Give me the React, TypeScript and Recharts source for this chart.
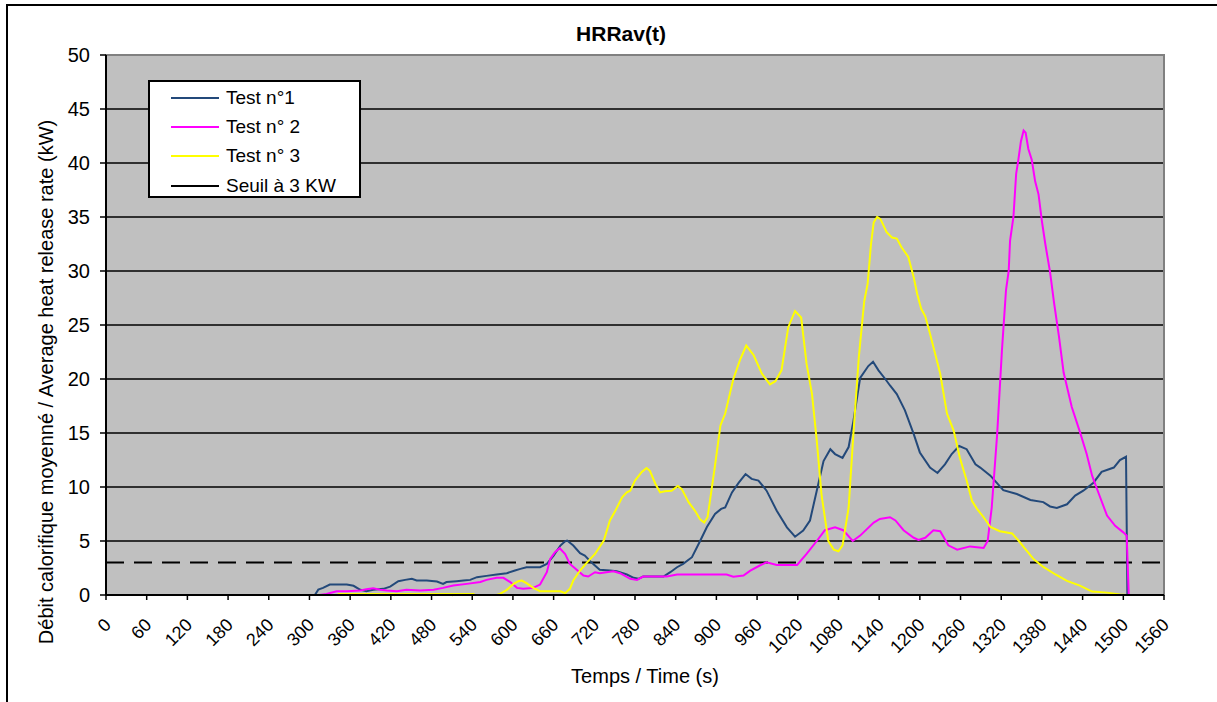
import React from "react";
import {
  LineChart,
  Line,
  XAxis,
  YAxis,
  CartesianGrid,
  ReferenceLine,
  ReferenceArea,
  Legend,
  Label,
} from "recharts";

const FONT = '"Liberation Sans", Arial, sans-serif';

// [time (s), HRR (kW)]
const test1: [number, number][] = [
  [0, 0], [308, 0], [313, 0.5], [320, 0.66], [330, 0.97], [355, 0.97], [365, 0.85], [375, 0.48],
  [384, 0.35], [394, 0.48], [409, 0.57], [419, 0.78], [431, 1.28], [441, 1.4], [451, 1.5], [458, 1.34],
  [473, 1.34], [488, 1.25], [497, 1.03], [502, 1.2], [517, 1.28], [527, 1.34], [537, 1.4], [547, 1.65],
  [561, 1.77], [576, 1.9], [591, 2.02], [603, 2.27], [611, 2.42], [620, 2.57], [640, 2.57], [650, 2.88],
  [660, 3.65], [670, 4.58], [677, 4.98], [680, 5.04], [689, 4.58], [699, 3.87], [706, 3.65], [716, 3.0],
  [728, 2.33], [743, 2.27], [753, 2.2], [768, 1.9], [778, 1.59], [785, 1.5], [792, 1.71], [822, 1.71],
  [832, 2.11], [842, 2.57], [851, 2.88], [864, 3.5], [876, 5.0], [886, 6.3], [898, 7.5], [907, 7.97],
  [913, 8.1], [923, 9.5], [933, 10.4], [943, 11.2], [952, 10.75], [962, 10.6], [974, 9.66], [989, 7.8],
  [1004, 6.27], [1016, 5.4], [1028, 5.96], [1038, 6.9], [1048, 9.66], [1058, 12.4], [1068, 13.5],
  [1075, 13.05], [1086, 12.7], [1095, 13.7], [1102, 16.1], [1112, 20.1], [1124, 21.2], [1131, 21.6],
  [1139, 20.8], [1149, 20.0], [1156, 19.4], [1166, 18.6], [1178, 17.1], [1191, 14.9], [1200, 13.2],
  [1215, 11.8], [1226, 11.3], [1237, 12.1], [1247, 13.05], [1258, 13.8], [1269, 13.5], [1282, 12.1],
  [1289, 11.8], [1304, 11.05], [1323, 9.7], [1343, 9.35], [1363, 8.8], [1382, 8.6], [1392, 8.2],
  [1402, 8.06], [1417, 8.4], [1429, 9.2], [1441, 9.66], [1456, 10.4], [1468, 11.4], [1486, 11.8],
  [1495, 12.5], [1504, 12.8], [1506, 0], [1560, 0],
];

const test2: [number, number][] = [
  [0, 0], [315, 0], [325, 0.1], [340, 0.35], [355, 0.35], [375, 0.41], [384, 0.54], [394, 0.63],
  [404, 0.48], [414, 0.41], [429, 0.35], [443, 0.48], [463, 0.41], [483, 0.48], [497, 0.66], [512, 0.88],
  [532, 1.03], [552, 1.2], [561, 1.4], [576, 1.59], [586, 1.59], [596, 1.2], [606, 0.66], [615, 0.57],
  [630, 0.66], [640, 0.97], [650, 2.11], [655, 3.35], [662, 3.96], [669, 4.33], [677, 3.8], [684, 2.88],
  [694, 2.33], [704, 1.8], [711, 1.71], [721, 2.11], [728, 2.02], [748, 2.2], [758, 2.02], [773, 1.5],
  [783, 1.4], [792, 1.71], [827, 1.71], [842, 1.9], [871, 1.9], [915, 1.89], [925, 1.7], [940, 1.8],
  [950, 2.26], [964, 2.73], [974, 3.03], [989, 2.78], [1019, 2.78], [1033, 3.8], [1048, 5.0], [1060, 6.0],
  [1075, 6.27], [1087, 6.0], [1101, 5.0], [1112, 5.5], [1132, 6.7], [1141, 7.04], [1156, 7.2],
  [1164, 6.9], [1176, 6.0], [1191, 5.3], [1198, 5.1], [1208, 5.3], [1220, 6.0], [1230, 5.9], [1242, 4.6],
  [1255, 4.2], [1274, 4.5], [1294, 4.36], [1300, 5.0], [1306, 8.1], [1314, 14.9], [1321, 22.6],
  [1327, 28.2], [1331, 30.0], [1333, 32.8], [1338, 35.0], [1342, 39.0], [1345, 40.2], [1349, 42.0],
  [1353, 43.0], [1356, 42.8], [1360, 41.3], [1365, 40.3], [1370, 38.3], [1375, 37.1], [1380, 34.6],
  [1385, 32.5], [1392, 29.9], [1398, 27.0], [1405, 24.0], [1412, 20.6], [1424, 17.4], [1436, 15.1],
  [1446, 13.05], [1454, 11.05], [1464, 9.35], [1476, 7.35], [1488, 6.4], [1500, 5.8], [1505, 5.5],
  [1508, 0], [1560, 0],
];

const test3: [number, number][] = [
  [0, 0], [342, 0], [343, 0.1], [425, 0.1], [426, 0], [428, 0.1], [510, 0.1], [511, 0], [513, 0.1],
  [542, 0.1], [543, 0], [576, 0], [581, 0.1], [591, 0.48], [601, 1.03], [608, 1.28], [613, 1.34],
  [620, 1.1], [630, 0.66], [640, 0.35], [670, 0.35], [677, 0.17], [684, 0.57], [689, 1.34], [699, 2.27],
  [709, 3.0], [721, 3.8], [734, 5.04], [743, 6.9], [751, 7.8], [761, 9.05], [768, 9.5], [773, 9.66],
  [780, 10.6], [790, 11.4], [797, 11.76], [802, 11.5], [810, 10.3], [817, 9.5], [824, 9.6], [834, 9.66],
  [843, 10.1], [849, 9.8], [859, 8.6], [869, 7.75], [876, 7.0], [882, 6.7], [887, 7.2], [892, 9.36],
  [898, 12.0], [906, 15.7], [913, 16.8], [925, 20.0], [935, 21.8], [944, 23.1], [955, 22.2], [967, 20.5],
  [979, 19.5], [987, 19.8], [996, 20.8], [1006, 24.8], [1016, 26.3], [1025, 25.7], [1033, 21.4],
  [1041, 18.6], [1048, 14.3], [1055, 9.3], [1065, 5.0], [1073, 4.2], [1080, 4.05], [1086, 4.6],
  [1095, 8.1], [1102, 14.9], [1110, 22.0], [1118, 27.2], [1123, 28.8], [1128, 32.5], [1132, 34.5],
  [1137, 35.0], [1142, 34.8], [1151, 33.6], [1159, 33.1], [1166, 33.0], [1173, 32.2], [1183, 31.3],
  [1191, 29.4], [1196, 27.9], [1202, 26.5], [1208, 25.8], [1215, 24.2], [1230, 20.5], [1240, 16.8],
  [1250, 15.2], [1259, 12.7], [1269, 10.6], [1277, 8.7], [1284, 8.0], [1294, 7.2], [1304, 6.3],
  [1318, 5.9], [1336, 5.7], [1346, 5.0], [1355, 4.3], [1368, 3.3], [1382, 2.6], [1400, 1.9],
  [1417, 1.3], [1436, 0.87], [1454, 0.32], [1476, 0.22], [1495, 0.04], [1505, 0], [1560, 0],
];

const THRESHOLD = 3;

const xTicks = [0, 60, 120, 180, 240, 300, 360, 420, 480, 540, 600, 660, 720, 780, 840, 900, 960, 1020, 1080, 1140, 1200, 1260, 1320, 1380, 1440, 1500, 1560];
const yTicks = [0, 5, 10, 15, 20, 25, 30, 35, 40, 45, 50];
const gridValues = [5, 10, 15, 20, 25, 30, 35, 40, 45];

const legendItems = [
  { name: "Test n°1", color: "#23497A" },
  { name: "Test n° 2", color: "#FF00FF" },
  { name: "Test n° 3", color: "#FFFF00" },
  { name: "Seuil à 3 KW", color: "#000000" },
];

const toRows = (pts: [number, number][]) => pts.map(([t, v]) => ({ t, v }));

const XTick = (props: any) => {
  const { x, y, payload } = props;
  const px = x + 6;
  const py = y + 24;
  return (
    <text
      x={px}
      y={py}
      transform={`rotate(-45 ${px} ${py})`}
      textAnchor="end"
      fontSize={18}
      fontFamily={FONT}
      fill="#000"
    >
      {payload.value}
    </text>
  );
};

const LegendBox = () => (
  <div
    style={{
      width: 213,
      height: 118,
      boxSizing: "border-box",
      border: "2px solid #000",
      background: "#fff",
      paddingTop: 1,
      fontFamily: FONT,
      fontSize: 19,
      color: "#000",
    }}
  >
    {legendItems.map((it) => (
      <div key={it.name} style={{ height: 29.3, display: "flex", alignItems: "center" }}>
        <div style={{ marginLeft: 21, width: 48, height: 2, background: it.color }} />
        <span style={{ marginLeft: 7, whiteSpace: "nowrap" }}>{it.name}</span>
      </div>
    ))}
  </div>
);

export default function App() {
  return (
    <div style={{ position: "absolute", left: 0, top: 0, width: 1217, height: 702, background: "#fff", overflow: "hidden" }}>
      <div
        style={{
          position: "absolute",
          left: 6,
          top: 4,
          width: 1217,
          height: 710,
          borderTop: "2px solid #000",
          borderLeft: "2px solid #000",
          pointerEvents: "none",
        }}
      />
      <div
        style={{
          position: "absolute",
          left: 0,
          top: 23,
          width: 1242,
          textAlign: "center",
          fontFamily: FONT,
          fontWeight: "bold",
          fontSize: 21,
          lineHeight: 1,
          color: "#000",
        }}
      >
        HRRav(t)
      </div>
      <div style={{ position: "absolute", left: 0, top: 0 }}>
        <LineChart width={1217} height={702} margin={{ top: 55, right: 53, bottom: 47, left: 66 }}>
          <CartesianGrid
            vertical={false}
            horizontalValues={gridValues}
            fill="#C0C0C0"
            fillOpacity={1}
            stroke="#000"
            strokeWidth={1.5}
          />
          <ReferenceArea x1={0} x2={1560} y1={0} y2={50} fill="none" stroke="#808080" strokeWidth={2} />
          <XAxis
            dataKey="t"
            type="number"
            domain={[0, 1560]}
            ticks={xTicks}
            interval={0}
            height={60}
            tick={<XTick />}
            tickSize={5}
            tickLine={{ stroke: "#000", strokeWidth: 1.5 }}
            axisLine={{ stroke: "#000", strokeWidth: 2 }}
          >
            <Label
              content={() => (
                <text x={645} y={683} textAnchor="middle" fontSize={20} fontFamily={FONT} fill="#000">
                  Temps / Time (s)
                </text>
              )}
            />
          </XAxis>
          <YAxis
            type="number"
            domain={[0, 50]}
            ticks={yTicks}
            interval={0}
            width={40}
            tickSize={6}
            tickMargin={10}
            tick={{ fill: "#000", fontSize: 20, fontFamily: FONT }}
            tickLine={{ stroke: "#000", strokeWidth: 1.5 }}
            axisLine={{ stroke: "#000", strokeWidth: 2 }}
          >
            <Label
              content={() => (
                <text
                  x={53}
                  y={382}
                  transform="rotate(-90 53 382)"
                  textAnchor="middle"
                  fontSize={20}
                  fontFamily={FONT}
                  fill="#000"
                >
                  Débit calorifique moyenné / Average heat release rate (kW)
                </text>
              )}
            />
          </YAxis>
          <ReferenceLine y={THRESHOLD} stroke="#000" strokeWidth={2} strokeDasharray="18 10" />
          <Line
            data={toRows(test1)}
            dataKey="v"
            name={legendItems[0].name}
            type="linear"
            stroke={legendItems[0].color}
            strokeWidth={2}
            dot={false}
            activeDot={false}
            isAnimationActive={false}
          />
          <Line
            data={toRows(test2)}
            dataKey="v"
            name={legendItems[1].name}
            type="linear"
            stroke={legendItems[1].color}
            strokeWidth={2}
            dot={false}
            activeDot={false}
            isAnimationActive={false}
          />
          <Line
            data={toRows(test3)}
            dataKey="v"
            name={legendItems[2].name}
            type="linear"
            stroke={legendItems[2].color}
            strokeWidth={2}
            dot={false}
            activeDot={false}
            isAnimationActive={false}
          />
          <Legend
            layout="vertical"
            align="center"
            verticalAlign="middle"
            wrapperStyle={{ position: "absolute", left: 148, top: 80, width: 213, height: 118 }}
            content={() => <LegendBox />}
          />
        </LineChart>
      </div>
    </div>
  );
}
